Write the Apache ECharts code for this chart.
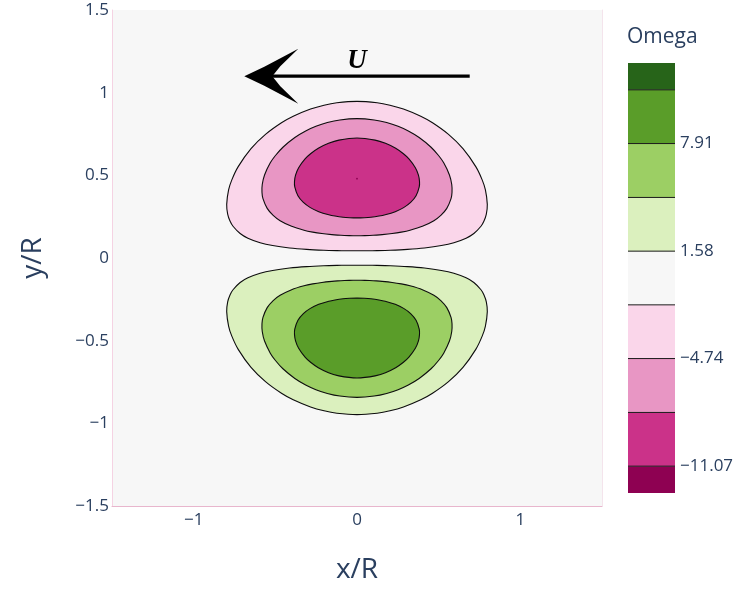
<!DOCTYPE html>
<html>
<head>
<meta charset="utf-8">
<script src="https://cdn.jsdelivr.net/npm/echarts@6/dist/echarts.min.js"></script>
<style>
  html, body { margin: 0; padding: 0; background: #ffffff; }
  #chart { width: 737px; height: 589px; }
</style>
</head>
<body>
<div id="chart"></div>
<script>
// Vorticity (Omega) contours of a translating dipole, x/R vs y/R.

// Axis ranges and tick labels
const xRange = [-1.5, 1.5];
const yRange = [-1.5, 1.5];
const xTickValues = [-1, 0, 1];
const yTickValues = [-1.5, -1, -0.5, 0, 0.5, 1, 1.5];

// Contour levels of Omega and the colour bar range
const contourLevels = [-11.07, -7.91, -4.74, -1.58, 1.58, 4.74, 7.91, 11.07];
const colorbarRange = [-12.65, 12.65];
const colorbarTickValues = [-11.07, -4.74, 1.58, 7.91];
const bandColors = ['#8e0152', '#cb3289', '#e896c4', '#fad6ea', '#f7f7f7',
                    '#dbf0be', '#9ccf64', '#5a9d29', '#276419'];

// Right-hand halves of the closed contours (x >= 0), from the axis of symmetry
// at the inner side round to the axis again at the outer side.
// Upper lobe: Omega = -1.58, -4.74, -7.91
const omegaNeg158 = [[0,0.0436],[0.0287,0.0436],[0.0649,0.0439],[0.1226,0.0448],[0.2034,0.0470],
  [0.3088,0.0522],[0.4131,0.0609],[0.5166,0.0752],[0.5931,0.0924],[0.6679,0.1198],[0.7155,0.1482],
  [0.7590,0.1919],[0.7775,0.2234],[0.7918,0.2656],[0.7978,0.3243],[0.7862,0.4114],[0.7664,0.4726],
  [0.7273,0.5525],[0.6489,0.6613],[0.5603,0.7476],[0.4625,0.8178],[0.3904,0.8574],[0.2844,0.9009],
  [0.2018,0.9243],[0.1232,0.9388],[0,0.9473]];
const omegaNeg474 = [[0,0.1346],[0.0481,0.1352],[0.0774,0.1361],[0.1193,0.1384],[0.1539,0.1411],
  [0.2151,0.1478],[0.2712,0.1566],[0.3245,0.1680],[0.4003,0.1914],[0.4707,0.2255],[0.5132,0.2574],
  [0.5498,0.3001],[0.5757,0.3592],[0.5818,0.3976],[0.5801,0.4444],[0.5660,0.5024],[0.5309,0.5755],
  [0.4993,0.6199],[0.4535,0.6700],[0.3805,0.7287],[0.3143,0.7681],[0.2516,0.7963],[0.1815,0.8192],
  [0.1050,0.8351],[0,0.8429]];
const omegaNeg791 = [[0,0.2425],[0.0452,0.2438],[0.0853,0.2467],[0.1346,0.2536],[0.1725,0.2614],
  [0.2342,0.2804],[0.2855,0.3047],[0.3283,0.3360],[0.3616,0.3764],[0.3810,0.4295],[0.3827,0.4624],
  [0.3762,0.5008],[0.3573,0.5459],[0.3180,0.5994],[0.2843,0.6305],[0.2369,0.6636],[0.1743,0.6935],
  [0.1106,0.7131],[0,0.7257]];
// Lower lobe: Omega = +1.58, +4.74, +7.91
const omegaPos158 = [[0,-0.0436],[0.0287,-0.0436],[0.0649,-0.0439],[0.1226,-0.0448],[0.2034,-0.0470],
  [0.3088,-0.0522],[0.4131,-0.0609],[0.5166,-0.0752],[0.5931,-0.0924],[0.6679,-0.1198],[0.7155,-0.1482],
  [0.7590,-0.1919],[0.7775,-0.2234],[0.7918,-0.2656],[0.7978,-0.3243],[0.7862,-0.4114],[0.7664,-0.4726],
  [0.7273,-0.5525],[0.6489,-0.6613],[0.5603,-0.7476],[0.4625,-0.8178],[0.3904,-0.8574],[0.2844,-0.9009],
  [0.2018,-0.9243],[0.1232,-0.9388],[0,-0.9473]];
const omegaPos474 = [[0,-0.1346],[0.0481,-0.1352],[0.0774,-0.1361],[0.1193,-0.1384],[0.1539,-0.1411],
  [0.2151,-0.1478],[0.2712,-0.1566],[0.3245,-0.1680],[0.4003,-0.1914],[0.4707,-0.2255],[0.5132,-0.2574],
  [0.5498,-0.3001],[0.5757,-0.3592],[0.5818,-0.3976],[0.5801,-0.4444],[0.5660,-0.5024],[0.5309,-0.5755],
  [0.4993,-0.6199],[0.4535,-0.6700],[0.3805,-0.7287],[0.3143,-0.7681],[0.2516,-0.7963],[0.1815,-0.8192],
  [0.1050,-0.8351],[0,-0.8429]];
const omegaPos791 = [[0,-0.2425],[0.0452,-0.2438],[0.0853,-0.2467],[0.1346,-0.2536],[0.1725,-0.2614],
  [0.2342,-0.2804],[0.2855,-0.3047],[0.3283,-0.3360],[0.3616,-0.3764],[0.3810,-0.4295],[0.3827,-0.4624],
  [0.3762,-0.5008],[0.3573,-0.5459],[0.3180,-0.5994],[0.2843,-0.6305],[0.2369,-0.6636],[0.1743,-0.6935],
  [0.1106,-0.7131],[0,-0.7257]];
// Vorticity minimum (below -11.07)
const omegaMinPoint = [0, 0.48];

// Flow-direction annotation
const arrowTail = [0.69, 1.10];
const arrowHead = [-0.69, 1.10];
const arrowLabel = 'U';
const arrowLabelAt = [0, 1.19];

const fontFamily = '"Open Sans", "Noto Sans", sans-serif';
const textColor = '#2a3f5f';
const fmtMinus = v => String(v).replace('-', '\u2212');

// Close a symmetric contour: right half plus the mirrored left half.
function closeContour(half) {
  const left = half.slice(1, -1).reverse().map(p => [-p[0], p[1]]);
  return half.concat(left);
}

const contourShapes = [
  { pts: closeContour(omegaNeg158), color: bandColors[3] },
  { pts: closeContour(omegaNeg474), color: bandColors[2] },
  { pts: closeContour(omegaNeg791), color: bandColors[1] },
  { pts: closeContour(omegaPos158), color: bandColors[5] },
  { pts: closeContour(omegaPos474), color: bandColors[6] },
  { pts: closeContour(omegaPos791), color: bandColors[7] }
];

const contourSeries = contourShapes.map(shape => ({
  type: 'custom',
  xAxisIndex: 0,
  yAxisIndex: 0,
  data: shape.pts,
  silent: true,
  renderItem: (params, api) => {
    if (params.dataIndex !== 0) return null;
    const pts = shape.pts.map(p => api.coord(p));
    return {
      type: 'polygon',
      shape: { points: pts, smooth: 0.25 },
      style: { fill: shape.color, stroke: '#0d0d0d', lineWidth: 1.1 }
    };
  }
}));

// Colour bar bands built from the contour levels
const bandEdges = [colorbarRange[0]].concat(contourLevels, [colorbarRange[1]]);
const colorbarBands = bandColors.map((c, i) => [bandEdges[i], bandEdges[i + 1], i]);

const chart = echarts.init(document.getElementById('chart'), null, { renderer: 'canvas' });

chart.setOption({
  animation: false,
  backgroundColor: '#ffffff',
  textStyle: { fontFamily: fontFamily },
  title: {
    text: 'Omega',
    left: 627,
    top: 27,
    padding: 0,
    textStyle: { fontFamily: fontFamily, fontSize: 21, fontWeight: 'normal', color: textColor }
  },
  grid: [
    { left: 112, top: 10, width: 490, height: 499, show: true, backgroundColor: '#f7f7f7', borderWidth: 0 },
    { left: 628, top: 63, width: 47, height: 430 }
  ],
  xAxis: [
    {
      gridIndex: 0, type: 'value', min: xRange[0], max: xRange[1],
      splitLine: { show: false },
      axisTick: { show: false },
      axisLine: { show: true, onZero: false, lineStyle: { color: '#e8b6cd', width: 1 } },
      axisLabel: {
        customValues: xTickValues, formatter: fmtMinus, margin: 6,
        fontSize: 17, color: textColor, fontFamily: fontFamily
      },
      name: 'x/R', nameLocation: 'middle', nameGap: 50,
      nameTextStyle: { fontSize: 28, color: textColor, fontFamily: fontFamily }
    },
    { gridIndex: 1, type: 'value', min: 0, max: 1, show: false }
  ],
  yAxis: [
    {
      gridIndex: 0, type: 'value', min: yRange[0], max: yRange[1],
      splitLine: { show: false },
      axisTick: { show: false },
      axisLine: { show: true, onZero: false, lineStyle: { color: '#f5d3e3', width: 1 } },
      axisLabel: {
        customValues: yTickValues, formatter: fmtMinus, margin: 3, padding: [4, 0, 0, 0],
        fontSize: 17, color: textColor, fontFamily: fontFamily
      },
      name: 'y/R', nameLocation: 'middle', nameGap: 65, nameRotate: 90,
      nameTextStyle: { fontSize: 28, color: textColor, fontFamily: fontFamily }
    },
    {
      gridIndex: 1, type: 'value', min: colorbarRange[0], max: colorbarRange[1], position: 'right',
      splitLine: { show: false },
      axisTick: { show: false },
      axisLine: { show: false },
      axisLabel: {
        customValues: colorbarTickValues, formatter: fmtMinus, margin: 5, padding: [3, 0, 0, 0],
        fontSize: 17, color: textColor, fontFamily: fontFamily
      }
    },
    {
      gridIndex: 0, type: 'value', min: yRange[0], max: yRange[1], position: 'right',
      splitLine: { show: false }, axisTick: { show: false }, axisLabel: { show: false },
      axisLine: { show: true, onZero: false, lineStyle: { color: '#f4e4ec', width: 1 } }
    }
  ],
  series: contourSeries.concat([
    {
      // tiny region below the lowest contour level
      type: 'custom', xAxisIndex: 0, yAxisIndex: 0, silent: true,
      data: [omegaMinPoint],
      renderItem: (params, api) => {
        const p = api.coord([api.value(0), api.value(1)]);
        return { type: 'circle', shape: { cx: p[0], cy: p[1], r: 0.9 }, style: { fill: bandColors[0] } };
      }
    },
    {
      // flow direction arrow with its label
      type: 'custom', xAxisIndex: 0, yAxisIndex: 0, silent: true,
      data: [[arrowTail[0], arrowTail[1], arrowHead[0], arrowHead[1]]],
      renderItem: (params, api) => {
        const t = api.coord([api.value(0), api.value(1)]);
        const h = api.coord([api.value(2), api.value(3)]);
        const lab = api.coord(arrowLabelAt);
        const hx = h[0], hy = h[1];
        return {
          type: 'group',
          children: [
            { type: 'line', shape: { x1: t[0], y1: t[1], x2: hx + 26, y2: hy },
              style: { stroke: '#000000', lineWidth: 3.3 } },
            { type: 'polygon',
              shape: { points: [
                [hx, hy], [hx + 20, hy - 9.5], [hx + 38, hy - 19], [hx + 54, hy - 27.5],
                [hx + 36, hy - 10], [hx + 28, hy],
                [hx + 36, hy + 10], [hx + 54, hy + 27.5], [hx + 38, hy + 19], [hx + 20, hy + 9.5]
              ] },
              style: { fill: '#000000' } },
            { type: 'text', x: lab[0], y: lab[1],
              style: { text: arrowLabel, fill: '#000000', align: 'center', verticalAlign: 'middle',
                       font: 'italic bold 27px "Liberation Serif", serif' } }
          ]
        };
      }
    },
    {
      // colour bar bands
      type: 'custom', xAxisIndex: 1, yAxisIndex: 1, silent: true,
      data: colorbarBands,
      renderItem: (params, api) => {
        const a = api.coord([0, api.value(1)]);
        const b = api.coord([1, api.value(0)]);
        return { type: 'rect', shape: { x: a[0], y: a[1], width: b[0] - a[0], height: b[1] - a[1] },
                 style: { fill: bandColors[api.value(2)] } };
      }
    },
    {
      // colour bar level lines
      type: 'custom', xAxisIndex: 1, yAxisIndex: 1, silent: true,
      data: contourLevels.map(v => [v]),
      renderItem: (params, api) => {
        const a = api.coord([0, api.value(0)]);
        const b = api.coord([1, api.value(0)]);
        return { type: 'line', shape: { x1: a[0], y1: a[1], x2: b[0], y2: b[1] },
                 style: { stroke: '#1a1a1a', lineWidth: 1 } };
      }
    }
  ])
});
</script>
</body>
</html>
